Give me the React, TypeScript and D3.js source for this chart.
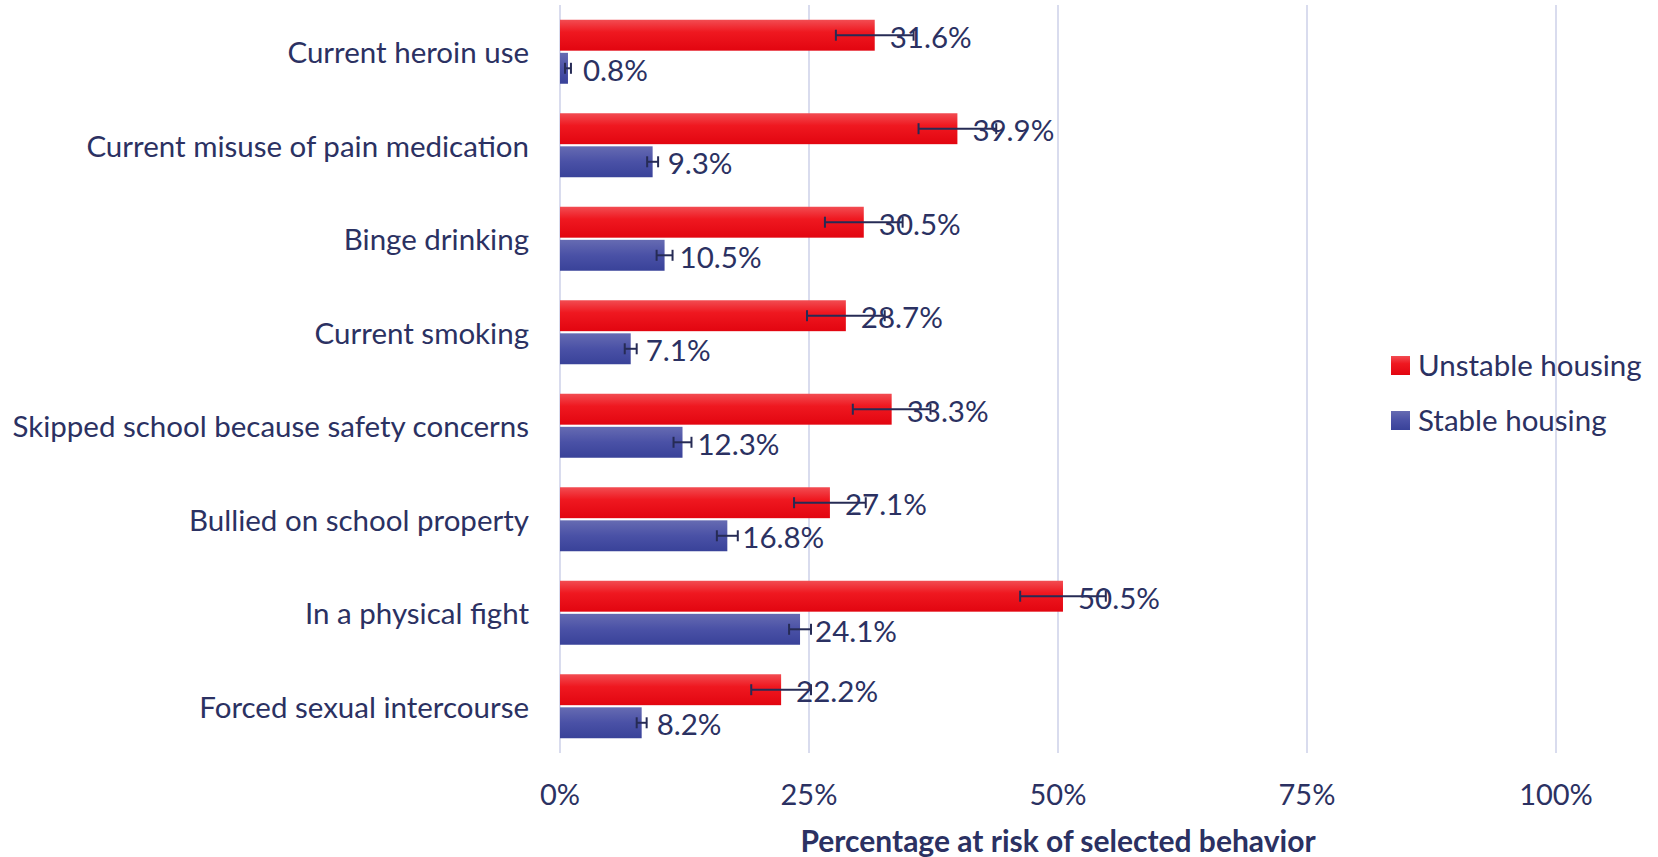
import React from "react";
import * as d3 from "d3";

const categories = [
  "Current heroin use",
  "Current misuse of pain medication",
  "Binge drinking",
  "Current smoking",
  "Skipped school because safety concerns",
  "Bullied on school property",
  "In a physical fight",
  "Forced sexual intercourse",
];
const seriesNames = ["Unstable housing", "Stable housing"];
const unstable = [31.6, 39.9, 30.5, 28.7, 33.3, 27.1, 50.5, 22.2];
const stable = [0.8, 9.3, 10.5, 7.1, 12.3, 16.8, 24.1, 8.2];
const unstableErr = [3.9, 3.9, 3.9, 3.9, 3.9, 3.6, 4.3, 3.0];
const stableErr = [0.3, 0.55, 0.8, 0.6, 0.9, 1.05, 1.1, 0.5];
const xTicks = [0, 25, 50, 75, 100];
const axisTitle = "Percentage at risk of selected behavior";

const FONT = "Lato, 'Open Sans', sans-serif";
const TEXT = "#2b3162";
const ERR = "#262b55";

export default function App() {
  const W = 1658, H = 857;
  const x = d3.scaleLinear().domain([0, 100]).range([560, 1556]);
  const y = d3.scaleBand<string>().domain(categories).range([5, 753]).paddingInner(0.3155).paddingOuter(0.15775);
  const sub = d3.scaleBand<string>().domain(seriesNames).range([0, y.bandwidth()]).paddingInner(0.065);
  const fills = ["url(#gRed)", "url(#gBlue)"];
  const values = [unstable, stable];
  const errs = [unstableErr, stableErr];
  const fs = 29.5;

  return (
    <svg width={W} height={H} style={{ position: "absolute", left: 0, top: 0, background: "#fff" }} fontFamily={FONT}>
      <defs>
        <linearGradient id="gRed" x1="0" y1="0" x2="0" y2="1">
          <stop offset="0" stopColor="#f24c52" />
          <stop offset="0.4" stopColor="#ef1820" />
          <stop offset="1" stopColor="#e20510" />
        </linearGradient>
        <linearGradient id="gBlue" x1="0" y1="0" x2="0" y2="1">
          <stop offset="0" stopColor="#666bb2" />
          <stop offset="0.5" stopColor="#4a51a6" />
          <stop offset="1" stopColor="#394299" />
        </linearGradient>
      </defs>
      {xTicks.map((t) => (
        <line key={t} x1={x(t)} x2={x(t)} y1={5} y2={753} stroke="#d9dcee" strokeWidth={2} />
      ))}
      {categories.map((c, i) => (
        <g key={c}>
          <text x={529} y={(y(c) as number) + y.bandwidth() / 2} textAnchor="end" dominantBaseline="central" fontSize={fs} fill={TEXT}>
            {c}
          </text>
          {seriesNames.map((s, k) => {
            const v = values[k][i];
            const e = errs[k][i];
            const by = (y(c) as number) + (sub(s) as number);
            const bh = sub.bandwidth();
            const cy = by + bh / 2;
            return (
              <g key={s}>
                <rect x={x(0)} y={by} width={x(v) - x(0)} height={bh} fill={fills[k]} />
                <line x1={x(v - e)} x2={x(v + e)} y1={cy} y2={cy} stroke={ERR} strokeWidth={2} />
                <line x1={x(v - e)} x2={x(v - e)} y1={cy - 5.5} y2={cy + 5.5} stroke={ERR} strokeWidth={2} />
                <line x1={x(v + e)} x2={x(v + e)} y1={cy - 5.5} y2={cy + 5.5} stroke={ERR} strokeWidth={2} />
                <text x={x(v) + 15} y={cy + 1} dominantBaseline="central" fontSize={fs} fill={TEXT}>
                  {v.toFixed(1)}%
                </text>
              </g>
            );
          })}
        </g>
      ))}
      {xTicks.map((t) => (
        <text key={t} x={x(t)} y={793} textAnchor="middle" dominantBaseline="central" fontSize={fs - 0.5} fill={TEXT}>
          {t}%
        </text>
      ))}
      <text x={x(50)} y={840} textAnchor="middle" dominantBaseline="central" fontSize={30} fontWeight="bold" fill={TEXT}>
        {axisTitle}
      </text>
      {seriesNames.map((s, k) => (
        <g key={s}>
          <rect x={1391} y={356 + k * 55} width={19} height={19} fill={fills[k]} />
          <text x={1418} y={364 + k * 55} dominantBaseline="central" fontSize={fs} fill={TEXT}>
            {s}
          </text>
        </g>
      ))}
    </svg>
  );
}
